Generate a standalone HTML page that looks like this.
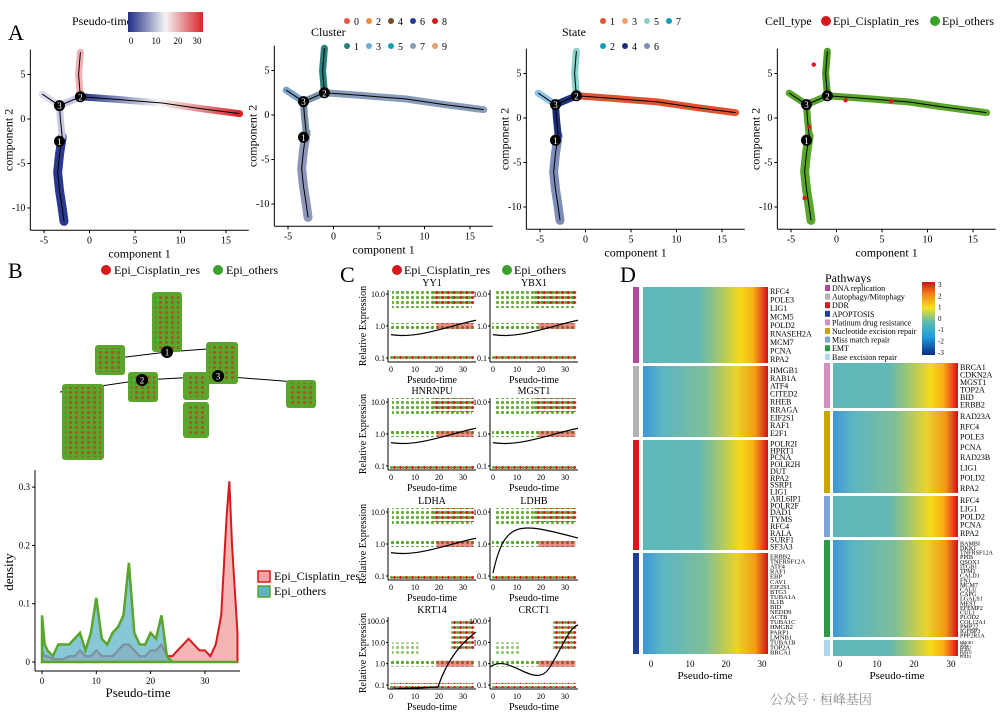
<!DOCTYPE html>
<html><head><meta charset="utf-8"><style>
body{margin:0;background:#fff;font-family:"Liberation Serif","Noto Serif CJK SC",serif;}
svg text{font-family:"Liberation Serif","Noto Serif CJK SC",serif;}
</style></head><body>
<svg id="fig" width="1005" height="717" viewBox="0 0 1005 717" xmlns="http://www.w3.org/2000/svg">
<defs>
<linearGradient id="gPT" x1="0" x2="1"><stop offset="0" stop-color="#1f2d86"/><stop offset="0.5" stop-color="#f4f4f4"/><stop offset="1" stop-color="#d8232a"/></linearGradient>
<linearGradient id="gCB" x1="0" y1="1" x2="0" y2="0"><stop offset="0" stop-color="#0b2a84"/><stop offset="0.25" stop-color="#1d9fe0"/><stop offset="0.45" stop-color="#5bbcb0"/><stop offset="0.65" stop-color="#f7e11b"/><stop offset="0.85" stop-color="#f07a14"/><stop offset="1" stop-color="#c8121c"/></linearGradient>
<linearGradient id="gHM" x1="0" x2="1"><stop offset="0" stop-color="#5fb7b9"/><stop offset="0.45" stop-color="#62b8b3"/><stop offset="0.62" stop-color="#a7c86a"/><stop offset="0.78" stop-color="#f6d91a"/><stop offset="0.88" stop-color="#f8b112"/><stop offset="0.95" stop-color="#e9531b"/><stop offset="1" stop-color="#c5121d"/></linearGradient>
<linearGradient id="gHM2" x1="0" x2="1"><stop offset="0" stop-color="#3d97d8"/><stop offset="0.15" stop-color="#5ab5c4"/><stop offset="0.5" stop-color="#7fbf98"/><stop offset="0.75" stop-color="#ead22a"/><stop offset="0.9" stop-color="#f29a14"/><stop offset="1" stop-color="#c9141d"/></linearGradient>
<pattern id="dotsRG" width="6" height="5" patternUnits="userSpaceOnUse"><circle cx="1.5" cy="2.5" r="1.5" fill="#5aa52b"/><circle cx="4.5" cy="2.5" r="1.5" fill="#d7191c"/></pattern>
<pattern id="dotsG" width="5" height="5" patternUnits="userSpaceOnUse"><circle cx="2.5" cy="2.5" r="1.6" fill="#5aa52b"/></pattern>
</defs>
<g id="panelA"></g>
<g id="panelB"></g>
<g id="panelC"></g>
<g id="panelD"></g>
</svg>
<script>
// ---------- data ----------
const densX = [0,0.5,1,2,3,4,5,6,7,8,9,10,11,12,13,14,15,16,17,18,19,20,21,22,23,24,25,26,27,28,29,30,31,32,33,34,34.5,35,36];
const densRes = [0.02,0.01,0.01,0.005,0.005,0.005,0.01,0.01,0.02,0.01,0.01,0.02,0.01,0.01,0.01,0.02,0.03,0.03,0.02,0.01,0.01,0.02,0.02,0.03,0.01,0.01,0.02,0.03,0.04,0.03,0.02,0.02,0.01,0.03,0.08,0.25,0.31,0.2,0.05];
const densOth = [0.08,0.03,0.02,0.01,0.03,0.03,0.03,0.04,0.05,0.02,0.05,0.11,0.04,0.03,0.05,0.06,0.08,0.17,0.05,0.03,0.03,0.05,0.04,0.08,0.01,0,0,0,0,0,0,0,0,0,0,0,0,0,0];
const densYTicks = [0,0.1,0.2,0.3];
const densXTicks = [0,10,20,30];
const ptTicks = [0,10,20,30];
const compXTicks = [-5,0,5,10,15];
const compYTicks = [5,0,-5,-10];
const branchLow = [[-3,-2],[-3.3,-4],[-3.5,-6],[-3.3,-8],[-3,-10],[-2.8,-11.5]];
const branchMid = [[-3,-2],[-3.2,0],[-3.3,1.5],[-1,2.5]];
const branchUp = [[-1,2.5],[-1.2,5],[-1,7.5]];
const branchLeft = [[-3.3,1.5],[-5.2,2.8]];
const branchRight = [[-1,2.5],[3,2.2],[8,1.8],[12,1.2],[16.5,0.6]];
const genesL = [["RFC4","POLE3","LIG1","MCM5","POLD2","RNASEH2A","MCM7","PCNA","RPA2"],["HMGB1","RAB1A","ATF4","CITED2","RHEB","RRAGA","EIF2S1","RAF1","E2F1"],["POLR2I","HPRT1","PCNA","POLR2H","DUT","RPA2","SSRP1","LIG1","ARL6IP1","POLR2F","DAD1","TYMS","RFC4","RALA","SURF1","SF3A3"],["ERBB2","TNFRSF12A","ATF4","RAF1","EBP","CAV1","EIF2S1","BTG3","TUBA1A","IL1B","BID","NEDD9","ACTB","TUBA1C","HMGB2","PARP1","LMNB1","TUBA1B","TOP2A","BRCA1"]];
const genesR = [["BRCA1","CDKN2A","MGST1","TOP2A","BID","ERBB2"],["RAD23A","RFC4","POLE3","PCNA","RAD23B","LIG1","POLD2","RPA2"],["RFC4","LIG1","POLD2","PCNA","RPA2"],["BAMBI","DKK1","TNFRSF12A","PPIB","QSOX1","ITGB1","TPM1","CALD1","FN1","MCM7","CALU","CAPG","LGALS1","MEST","EFEMP2","CUL1","PLOD2","COL12A1","PMP22","IGFBP3","PPP2R1A"],["HMGB1","TDG","PARP1","PCNA","POLD2","LIG1","POLE3"]];
const cGenes = ["YY1","YBX1","HNRNPU","MGST1","LDHA","LDHB","KRT14","CRCT1"];

const NS="http://www.w3.org/2000/svg";
function mk(parent,tag,attrs,txt){const e=document.createElementNS(NS,tag);for(const k in attrs)e.setAttribute(k,attrs[k]);if(txt!==undefined)e.textContent=txt;parent.appendChild(e);return e;}
const A=document.getElementById('panelA'),B=document.getElementById('panelB'),C=document.getElementById('panelC'),D=document.getElementById('panelD');

// ---------- Panel A ----------
let t=mk(A,'text',{x:8,y:40,'font-size':22},'A');


const panels=[{x0:44,y0:119,kind:'pt'},{x0:288,y0:115,kind:'cl'},{x0:540,y0:118,kind:'st'},{x0:791,y0:118,kind:'ct'}];
const sx=9.1, sy=-8.9;
panels.forEach((p,i)=>{
  const g=mk(A,'g',{});
  
  
  const X=v=>p.x0+(v+5)*sx, Y=v=>p.y0+v*sy;
  const left=X(-6.5), right=X(17.5), top=Y(7.8), bot=Y(-12.5);
  mk(g,'line',{x1:left,y1:top,x2:left,y2:bot,stroke:'#000'});
  mk(g,'line',{x1:left,y1:bot,x2:right,y2:bot,stroke:'#000'});
  compXTicks.forEach(v=>{mk(g,'line',{x1:X(v),x2:X(v),y1:bot,y2:bot+3,stroke:'#000'});mk(g,'text',{x:X(v),y:bot+13,'font-size':10,'text-anchor':'middle'},v);});
  compYTicks.forEach(v=>{mk(g,'line',{x1:left-3,x2:left,y1:Y(v),y2:Y(v),stroke:'#000'});mk(g,'text',{x:left-5,y:Y(v)+3,'font-size':10,'text-anchor':'end'},v);});
  let xl=mk(g,'text',{x:(left+right)/2,y:bot+27,'font-size':12,'text-anchor':'middle'},'component 1');
  
  
  let yl=mk(g,'text',{x:0,y:0,'font-size':12,'text-anchor':'middle',transform:`translate(${left-18},${(top+bot)/2}) rotate(-90)`},'component 2');
  
  
  const cols={pt:{low:'#2a3890',mid:'#c9cbe6',up:'#f2b1b4',left:'#dcdcf0',right:'#ea6f6f'},
    cl:{low:'#8f97b8',mid:'#7a90a8',up:'#2a7f7a',left:'#7ca3c6',right:'#8a9cbb'},
    st:{low:'#7e8cb8',mid:'#1d2f7a',up:'#8ad3cc',left:'#8fc3e6',right:'#e0532f'},
    ct:{low:'#5aa52b',mid:'#5aa52b',up:'#4d9a22',left:'#5aa52b',right:'#5aa52b'}}[p.kind];
  const brs=[['low',branchLow],['mid',branchMid],['up',branchUp],['left',branchLeft],['right',branchRight]];
  brs.forEach(([k,pts])=>{
    const d=pts.map((q,j)=>(j?'L':'M')+X(q[0])+','+Y(q[1])).join(' ');
    let pa=mk(g,'path',{d:d,fill:'none',stroke:(p.kind==='pt'&&k==='right')?'url(#gPT)':cols[k],'stroke-width':k==='low'?9:7,'stroke-linecap':'round','stroke-linejoin':'round'});
    
    
    mk(g,'path',{d:d,fill:'none',stroke:'#000','stroke-width':1});
  });
  if(p.kind==='ct'){[[-3,-1],[-2.5,6],[1,2],[-3.5,-9],[6,1.9]].forEach(q=>mk(g,'circle',{cx:X(q[0]),cy:Y(q[1]),r:2.2,fill:'#d7191c'}));}
  [[1,-3.3,-2.5],[2,-1,2.5],[3,-3.3,1.5]].forEach(n=>{mk(g,'circle',{cx:X(n[1]),cy:Y(n[2]),r:5.5,fill:'#000'});mk(g,'text',{x:X(n[1]),y:Y(n[2])+3.5,'font-size':9,fill:'#fff','text-anchor':'middle','font-family':'Liberation Sans'},n[0]);});
});
let lg=mk(A,'g',{});
mk(lg,'text',{x:72,y:25,'font-size':12},'Pseudo-time');
mk(lg,'rect',{x:128,y:12,width:75,height:20,fill:'url(#gPT)'});
[['0',131],['10',156],['20',178],['30',197]].forEach(a=>mk(lg,'text',{x:a[1],y:44,'font-size':9,'text-anchor':'middle','font-family':'Liberation Sans'},a[0]));
lg=mk(A,'g',{});
mk(lg,'text',{x:311,y:36,'font-size':12},'Cluster');
const clC=['#e8534a','#2a7f7a','#f08a3c','#6aaed6','#7a4a2a','#12a0b8','#2a3890','#8a9cbb','#d7191c','#e0a070'];
[0,2,4,6,8].forEach((v,i)=>{mk(lg,'circle',{cx:347+i*22,cy:21,r:3,fill:clC[v]});mk(lg,'text',{x:354+i*22,y:25,'font-size':10,'font-family':'Liberation Sans'},v);});
[1,3,5,7,9].forEach((v,i)=>{mk(lg,'circle',{cx:347+i*22,cy:46,r:3,fill:clC[v]});mk(lg,'text',{x:354+i*22,y:50,'font-size':10,'font-family':'Liberation Sans'},v);});
lg=mk(A,'g',{});
mk(lg,'text',{x:562,y:36,'font-size':12},'State');
const stC=['#e0532f','#f0a070','#8ad3cc','#12a0b8','#1d2f7a','#7e8cb8'];
[1,3,5,7].forEach((v,i)=>{mk(lg,'circle',{cx:603+i*22,cy:21,r:3,fill:stC[i]});mk(lg,'text',{x:610+i*22,y:25,'font-size':10,'font-family':'Liberation Sans'},v);});
[2,4,6].forEach((v,i)=>{mk(lg,'circle',{cx:603+i*22,cy:46,r:3,fill:stC[3+i]});mk(lg,'text',{x:610+i*22,y:50,'font-size':10,'font-family':'Liberation Sans'},v);});
lg=mk(A,'g',{});
mk(lg,'text',{x:765,y:25,'font-size':12},'Cell_type');
mk(lg,'circle',{cx:826,cy:21,r:5,fill:'#d7191c'});mk(lg,'text',{x:833,y:25,'font-size':12},'Epi_Cisplatin_res');
mk(lg,'circle',{cx:935,cy:21,r:5,fill:'#3aa12a'});mk(lg,'text',{x:942,y:25,'font-size':12},'Epi_others');

// ---------- Panel B ----------
t=mk(B,'text',{x:8,y:278,'font-size':22},'B');


lg=mk(B,'g',{});
mk(lg,'circle',{cx:106,cy:270,r:5,fill:'#d7191c'});mk(lg,'text',{x:114,y:274,'font-size':12},'Epi_Cisplatin_res');
mk(lg,'circle',{cx:218,cy:270,r:5,fill:'#3aa12a'});mk(lg,'text',{x:226,y:274,'font-size':12},'Epi_others');
const tree=mk(B,'g',{});
mk(tree,'path',{d:'M102,360 L167,352 L220,348 M60,392 L142,380 L218,376 L296,382 M167,352 L167,340',stroke:'#000',fill:'none'});
[[95,345,30,30],[152,292,30,60],[206,342,32,42],[128,372,30,30],[183,372,26,28],[62,384,42,76],[183,402,26,36],[286,380,30,28]].forEach(r=>{
  mk(tree,'rect',{x:r[0],y:r[1],width:r[2],height:r[3],fill:'#5aa52b',rx:3});
  mk(tree,'rect',{x:r[0]+3,y:r[1]+3,width:r[2]-6,height:r[3]-6,fill:'url(#dotsRG)',opacity:0.55});
});
[[1,167,352],[2,142,380],[3,218,376]].forEach(n=>{mk(tree,'circle',{cx:n[1],cy:n[2],r:6,fill:'#000'});mk(tree,'text',{x:n[1],y:n[2]+3.5,'font-size':9,fill:'#fff','text-anchor':'middle','font-family':'Liberation Sans'},n[0]);});
const dg=mk(B,'g',{});
const dX=v=>42+v*5.43, dY=v=>662-v*583;
mk(dg,'line',{x1:35,y1:470,x2:35,y2:671,stroke:'#000'});
mk(dg,'line',{x1:35,y1:671,x2:240,y2:671,stroke:'#000'});
densYTicks.forEach(v=>{mk(dg,'line',{x1:32,x2:35,y1:dY(v),y2:dY(v),stroke:'#000'});mk(dg,'text',{x:30,y:dY(v)+3,'font-size':9,'text-anchor':'end','font-family':'Liberation Sans'},v===0?'0':v.toFixed(1));});
densXTicks.forEach(v=>{mk(dg,'line',{x1:dX(v),x2:dX(v),y1:671,y2:674,stroke:'#000'});mk(dg,'text',{x:dX(v),y:684,'font-size':9,'text-anchor':'middle','font-family':'Liberation Sans'},v);});
let tt=mk(dg,'text',{x:138,y:697,'font-size':13,'text-anchor':'middle'},'Pseudo-time');
tt=mk(dg,'text',{x:0,y:0,'font-size':13,'text-anchor':'middle',transform:'translate(13,572) rotate(-90)'},'density');
function densPath(vals){let d='M'+dX(densX[0])+','+dY(0);densX.forEach((x,i)=>{d+=' L'+dX(x)+','+dY(vals[i]);});return d+' L'+dX(densX[densX.length-1])+','+dY(0)+' Z';}
let ar=mk(dg,'path',{d:densPath(densRes),fill:'#f4a3a3',stroke:'#d7191c','stroke-width':2,'fill-opacity':0.8});

ar=mk(dg,'path',{d:densPath(densOth),fill:'#5fb4c8',stroke:'#5aa52b','stroke-width':2.5,'fill-opacity':0.75});

lg=mk(B,'g',{});
mk(lg,'rect',{x:258,y:571,width:12,height:11,fill:'#f4a3a3',stroke:'#d7191c','stroke-width':1.5});mk(lg,'text',{x:274,y:580,'font-size':12},'Epi_Cisplatin_res');
mk(lg,'rect',{x:258,y:586,width:12,height:11,fill:'#5fb4c8',stroke:'#5aa52b','stroke-width':1.5});mk(lg,'text',{x:274,y:595,'font-size':12},'Epi_others');

// ---------- Panel C ----------
t=mk(C,'text',{x:340,y:282,'font-size':22},'C');


lg=mk(C,'g',{});
mk(lg,'circle',{cx:397,cy:270,r:5,fill:'#d7191c'});mk(lg,'text',{x:404,y:274,'font-size':12},'Epi_Cisplatin_res');
mk(lg,'circle',{cx:507,cy:270,r:5,fill:'#3aa12a'});mk(lg,'text',{x:514,y:274,'font-size':12},'Epi_others');
const rowsY=[290,398,508,617];
cGenes.forEach((gname,i)=>{
  const col=i%2,row=Math.floor(i/2);
  const x0=col?490:388, y0=rowsY[row], w=88, h=72;
  const g=mk(C,'g',{});
  mk(g,'text',{x:x0+w/2,y:y0-4,'font-size':10,'text-anchor':'middle'},gname);
  mk(g,'line',{x1:x0,y1:y0,x2:x0,y2:y0+h,stroke:'#000'});
  mk(g,'line',{x1:x0,y1:y0+h,x2:x0+w,y2:y0+h,stroke:'#000'});
  const big=row===3;
  const labs=big?['100.0','10.0','1.0','0.1']:['10.0','1.0','0.1'];
  labs.forEach((l,k)=>{const yy=y0+4+k*(h-8)/(labs.length-1);mk(g,'text',{x:x0-3,y:yy+3,'font-size':8,'text-anchor':'end','font-family':'Liberation Sans'},l);mk(g,'line',{x1:x0-2,x2:x0,y1:yy,y2:yy,stroke:'#000'});});
  const yOne=big?y0+4+2*(h-8)/3:y0+h/2, y10=big?y0+4+(h-8)/3:y0+4, y01=y0+h-4;
  mk(g,'rect',{x:x0+2,y:y01-2,width:w-4,height:5,fill:'url(#dotsRG)'});
  mk(g,'rect',{x:x0+2,y:yOne-3,width:w-4,height:6,fill:'url(#dotsG)'});
  mk(g,'rect',{x:x0+w*0.55,y:yOne-3,width:w*0.42,height:6,fill:'#d7191c',opacity:0.5});
  if(!big){mk(g,'rect',{x:x0+4,y:y10-4,width:w-8,height:18,fill:'url(#dotsG)',opacity:0.9});mk(g,'rect',{x:x0+w*0.5,y:y10-4,width:w*0.48,height:14,fill:'url(#dotsRG)'});}
  else{mk(g,'rect',{x:x0+w*0.72,y:y0+2,width:w*0.26,height:30,fill:'url(#dotsRG)'});mk(g,'rect',{x:x0+4,y:y10,width:w*0.3,height:12,fill:'url(#dotsG)',opacity:0.6});}
  let cd=big?(col?`M${x0},${y0+50} C${x0+20},${y0+35} ${x0+45},${y0+75} ${x0+60},${y0+50} S${x0+80},${y0+10} ${x0+w},${y0+8}`:`M${x0+3},${y0+h} L${x0+50},${y0+h-2} C${x0+60},${y0+40} ${x0+75},${y0+25} ${x0+w},${y0+15}`):
    (row===2&&col===1?`M${x0+3},${y0+65} C${x0+15},${y0+10} ${x0+30},${y0+15} ${x0+w},${y0+30}`:`M${x0+3},${y0+h*0.62} C${x0+30},${y0+h*0.68} ${x0+60},${y0+h*0.5} ${x0+w},${y0+h*0.42}`);
  mk(g,'path',{d:cd,fill:'none',stroke:'#000','stroke-width':1.2});
  ptTicks.forEach(v=>{const xx=x0+3+v*2.4;mk(g,'text',{x:xx,y:y0+h+10,'font-size':8,'text-anchor':'middle','font-family':'Liberation Sans'},v);});
  mk(g,'text',{x:x0+w/2,y:y0+h+21,'font-size':10,'text-anchor':'middle'},'Pseudo-time');
  if(col===0)mk(g,'text',{x:0,y:0,'font-size':10,'text-anchor':'middle',transform:`translate(${x0-22},${y0+h/2}) rotate(-90)`},'Relative Expression');
});

// ---------- Panel D ----------
t=mk(D,'text',{x:620,y:282,'font-size':22},'D');


function heat(x0,x1,blocks,genes,annotX){
  blocks.forEach((b,i)=>{
    const g=mk(D,'g',{});
    mk(g,'rect',{x:annotX,y:b[0],width:6,height:b[1]-b[0],fill:b[2]});
    mk(g,'rect',{x:x0,y:b[0],width:x1-x0,height:b[1]-b[0],fill:i%2?'url(#gHM2)':'url(#gHM)'});
    const n=genes[i].length, step=(b[1]-b[0])/n;
    genes[i].forEach((gn,k)=>mk(g,'text',{x:x1+2,y:b[0]+step*(k+0.5)+3,'font-size':Math.min(8,step+1.5)},gn));
  });
}
heat(643,768,[[287,363,'#b04a9a'],[366,437,'#b3b3b3'],[440,550,'#d7191c'],[553,654,'#1e3f95']],genesL,633);
heat(833,958,[[363,408,'#d28fc0'],[411,493,'#c9a300'],[496,537,'#7ba4d8'],[540,637,'#2e9a48'],[640,656,'#a9d8ef']],genesR,824);
[[0,651],[10,690],[20,726],[30,762]].forEach(a=>mk(D,'text',{x:a[1],y:667,'font-size':9,'text-anchor':'middle','font-family':'Liberation Sans'},a[0]));
mk(D,'text',{x:705,y:679,'font-size':11,'text-anchor':'middle'},'Pseudo-time');
[[0,840],[10,877],[20,914],[30,951]].forEach(a=>mk(D,'text',{x:a[1],y:667,'font-size':9,'text-anchor':'middle','font-family':'Liberation Sans'},a[0]));
mk(D,'text',{x:897,y:679,'font-size':11,'text-anchor':'middle'},'Pseudo-time');
lg=mk(D,'g',{});
mk(lg,'text',{x:825,y:282,'font-size':12},'Pathways');
[['DNA replication','#b04a9a'],['Autophagy/Mitophagy','#b3b3b3'],['DDR','#d7191c'],['APOPTOSIS','#1e3f95'],['Platinum drug resistance','#d28fc0'],['Nucleotide excision repair','#c9a300'],['Miss match repair','#7ba4d8'],['EMT','#2e9a48'],['Base excision repair','#a9d8ef']].forEach((p,i)=>{
  mk(lg,'rect',{x:825,y:285+i*8.6,width:5,height:6,fill:p[1]});mk(lg,'text',{x:832,y:291+i*8.6,'font-size':8},p[0]);
});
lg=mk(D,'g',{});
mk(lg,'rect',{x:922,y:282,width:13,height:73,fill:'url(#gCB)'});
['3','2','1','0','-1','-2','-3'].forEach((l,i)=>mk(lg,'text',{x:938,y:287+i*11.3,'font-size':7,'font-family':'Liberation Sans'},l));
t=mk(D,'text',{x:770,y:704,'font-size':13,fill:'#888','font-family':'Liberation Sans, Noto Sans CJK SC, sans-serif'},'公众号 · 桓峰基因');


</script>
</body></html>
